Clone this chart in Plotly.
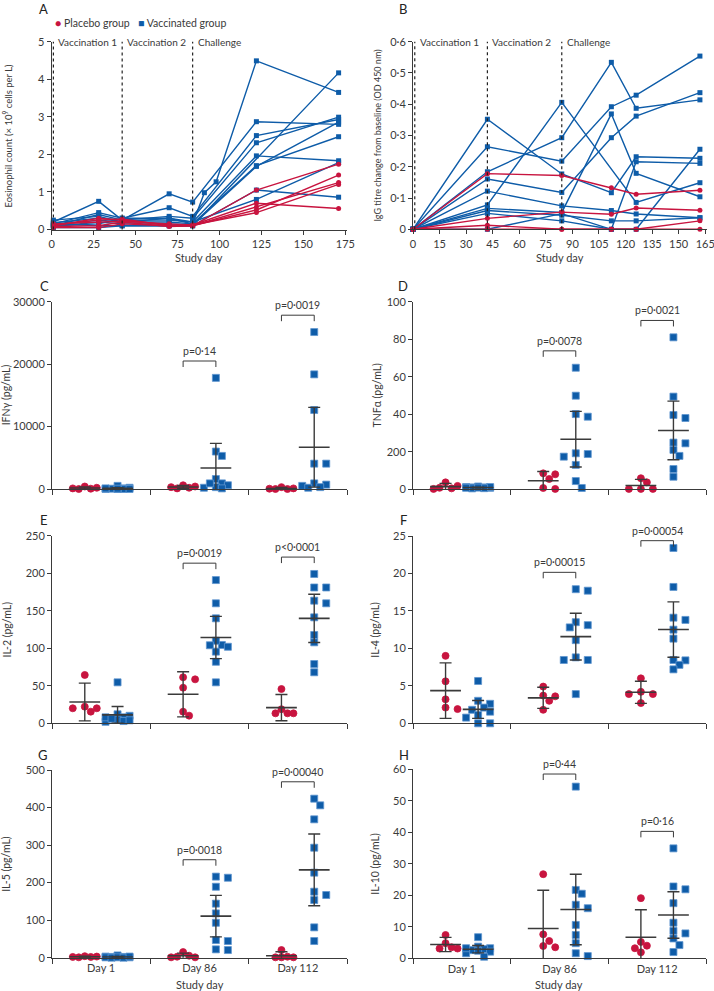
import numpy as np
import plotly.graph_objects as go

W, H = 714, 991
RED = '#c8143f'
BLUE = '#0e5ca8'
BLUE_EDGE = '#5f95cf'
INK = '#3a3a3a'
FONT = 'Lato, sans-serif'

# panel A: eosinophil count (x 10^9 cells per L) by study day
eos_days = [1, 28, 42, 70, 84, 91, 98, 122, 171]
eos_vaccine = [
    [0.20, 0.75, 0.25, 0.95, 0.73, None, None, 2.87, 2.80],
    [0.15, 0.45, 0.30, 0.58, 0.35, None, None, 2.50, 2.93],
    [0.10, 0.40, 0.25, 0.35, 0.30, None, None, 2.31, 2.99],
    [0.25, 0.35, 0.20, 0.30, 0.15, 0.98, 1.27, 4.49, 3.65],
    [0.18, 0.30, 0.25, 0.25, 0.20, None, None, 1.96, 1.83],
    [0.12, 0.25, 0.20, 0.20, 0.15, None, None, 1.70, 2.47],
    [0.08, 0.20, 0.15, 0.15, 0.12, None, None, 1.68, 2.86],
    [0.15, 0.10, 0.10, 0.10, 0.10, None, None, None, 4.17],
    [0.05, 0.05, 0.10, 0.10, 0.10, None, None, 1.05, 0.86],
    [0.10, 0.15, 0.30, 0.30, 0.20, None, None, 0.80, 1.78],
]
eos_placebo = [
    [0.10, 0.30, 0.25, 0.12, 0.10, None, None, 1.05, 1.74],
    [0.12, 0.25, 0.28, 0.10, 0.12, None, None, 0.70, 0.56],
    [0.08, 0.10, 0.20, 0.08, 0.10, None, None, 0.60, 1.25],
    [0.05, 0.05, 0.15, 0.10, 0.10, None, None, 0.52, 1.45],
    [0.15, 0.20, 0.22, 0.15, 0.12, None, None, 0.45, 1.20],
]

# panel B: IgG titre change from baseline (OD 450 nm)
igg_days = [0, 42, 84, 112, 126, 162]
igg_vaccine = [
    [0, 0.352, 0.177, 0.117, 0.232, 0.227],
    [0, 0.264, 0.218, 0.392, 0.429, 0.554],
    [0, 0.184, 0.293, 0.534, 0.387, 0.414],
    [0, 0.161, 0.118, 0.293, 0.362, 0.437],
    [0, 0.122, 0.075, 0.060, 0.049, 0.037],
    [0, 0.078, 0.406, None, 0.086, 0.149],
    [0, 0.067, 0.054, 0.369, 0.179, 0.104],
    [0, 0.060, 0.045, 0.027, 0.027, 0.037],
    [0, 0.051, 0.027, 0.000, 0.216, 0.211],
    [0, 0.000, 0.050, 0.000, 0.000, 0.256],
]
igg_placebo = [
    [0, 0.178, 0.172, 0.133, 0.112, 0.125],
    [0, 0.035, 0.055, 0.048, 0.068, 0.061],
    [0, 0.013, 0.000, 0.000, 0.000, 0.027],
    [0, 0.000, 0.000, 0.000, 0.000, 0.000],
]

event_days = [1, 42, 84]
event_labels = ['Vaccination 1', 'Vaccination 2', 'Challenge']

# panels C-H: cytokines (pg/mL) at day 1, day 86, day 112
day_labels = ['Day 1', 'Day 86', 'Day 112']

ifng_placebo = [[400, 200, 100, 50, 0],
                [600, 400, 300, 200, 100],
                [300, 100, 50, 0, 0]]
ifng_vaccine = [[500, 200, 100, 50, 0, 0, 0, 100, 50, 0],
                [17800, 6000, 5300, 1600, 900, 600, 300, 200, 100, 900],
                [25140, 18360, 12650, 4060, 4060, 900, 700, 500, 300, 200]]
ifng_p = ['p=0·14', 'p=0·0019']

tnf_placebo = [[3.7, 1.8, 0.2, 0.5, 0.8],
               [8.5, 5.5, 0.2, 8.0, 0.7],
               [5.9, 3.7, 0.2, 0.2, 0.2]]
tnf_vaccine = [[1.5, 1.2, 1.0, 0.8, 1.0, 0.5, 0.8, 1.2, 0.6, 0.9],
               [64.8, 49.9, 38.7, 40.1, 19.2, 17.4, 18.8, 13.0, 4.4, 0.7],
               [81.0, 49.4, 38.0, 39.6, 24.5, 24.9, 21.0, 17.8, 10.8, 6.7]]
tnf_p = ['p=0·0078', 'p=0·0021']

il2_placebo = [[64.4, 22.2, 15.5, 20.0, 20.0],
               [61.3, 58.6, 47.5, 15.5, 10.2],
               [45.7, 18.7, 13.3, 13.3, 13.3]]
il2_vaccine = [[54.6, 12, 10, 8, 5, 3, 2, 8, 6, 4],
               [190.9, 159.9, 139.9, 104.4, 110, 102, 104, 95.5, 82, 54.6],
               [199, 181, 181, 163.4, 159.9, 141.2, 117.7, 107.9, 79, 68]]
il2_p = ['p=0·0019', 'p<0·0001']

il4_placebo = [[9.0, 5.6, 3.2, 1.9, 2.1],
               [4.9, 3.7, 3.0, 3.6, 1.8],
               [6.0, 4.2, 3.9, 3.9, 2.7]]
il4_vaccine = [[5.65, 3.0, 2.6, 2.1, 1.8, 1.55, 1.1, 0, 0, 0.76],
               [17.7, 17.9, 13.5, 12.8, 13.1, 11.1, 8.8, 8.45, 8.45, 3.9],
               [23.4, 18.2, 14.1, 13.8, 12.5, 11.3, 8.45, 8.4, 7.8, 7.2]]
il4_p = ['p=0·00015', 'p=0·00054']

il5_placebo = [[3, 4, 2, 1, 2],
               [15, 5.3, 1, 1, 2.7],
               [20.4, 2.7, 1, 1, 1]]
il5_vaccine = [[6, 3, 2, 1, 1, 0, 2, 1, 0, 3],
               [213, 216, 189, 144, 118, 93, 44.4, 47, 20.4, 22.2],
               [423.6, 405.9, 368.6, 293, 226.5, 175.8, 167, 153.6, 80.8, 44.4]]
il5_p = ['p=0·0018', 'p=0·00040']

il10_placebo = [[7.4, 4.8, 3.1, 3.1, 3.5],
                [26.7, 7.6, 5.5, 3.5, 3.9],
                [19.1, 5.2, 4.0, 3.2, 1.9]]
il10_vaccine = [[6.7, 3.7, 3.2, 2.9, 2.6, 2.4, 2.1, 1.6, 0.5, 3.2],
                [54.5, 21.7, 20.5, 17.0, 15.9, 10.6, 7.4, 4.8, 1.6, 0.7],
                [34.9, 22.8, 21.9, 17.5, 11.3, 8.7, 7.9, 6.3, 4.2, 2.0]]
il10_p = ['p=0·44', 'p=0·16']

# two-sided 95% t critical values by degrees of freedom
t_crit = {1: 12.706, 2: 4.303, 3: 3.182, 4: 2.776, 5: 2.571, 6: 2.447,
          7: 2.365, 8: 2.306, 9: 2.262, 10: 2.228}

# panel geometry in pixels (left, right), (top, bottom)
geom = {
    'A': ((51.7, 347), (41.7, 229.5)),
    'B': ((413, 707), (41.7, 229.3)),
    'C': ((52, 347), (301.7, 489)),
    'D': ((413, 706), (301.7, 489.3)),
    'E': ((52, 347), (535.7, 723.3)),
    'F': ((413, 706), (536, 723.3)),
    'G': ((52, 347), (770, 957.7)),
    'H': ((413, 706), (769.3, 958.3)),
}
letter_pos = {'A': (37, -1), 'B': (397, -1), 'C': (38, 276), 'D': (396, 276),
              'E': (38, 510), 'F': (398, 510), 'G': (36, 745), 'H': (397, 745)}

fig = go.Figure()
annotations = []
shapes = []
layout = {}

axis_style = dict(showline=True, linecolor=INK, linewidth=1, ticks='outside',
                  ticklen=4, tickwidth=1, tickcolor=INK, showgrid=False,
                  zeroline=False, automargin=False, ticklabeloverflow='allow',
                  tickfont=dict(size=11, color=INK, family=FONT))


def ids(n):
    s = '' if n == 1 else str(n)
    return s


def set_axes(n, name, xcfg, ycfg):
    (x0, x1), (yt, yb) = geom[name]
    s = ids(n)
    xa = dict(axis_style, domain=[x0 / W, x1 / W], anchor='y' + s)
    xa.update(xcfg)
    ya = dict(axis_style, domain=[1 - yb / H, 1 - yt / H], anchor='x' + s)
    ya.update(ycfg)
    layout['xaxis' + s] = xa
    layout['yaxis' + s] = ya


def ytitle(xpx, name, text, size=10.5):
    (x0, x1), (yt, yb) = geom[name]
    annotations.append(dict(x=xpx / W, y=1 - (yt + yb) / 2 / H, xref='paper', yref='paper',
                            text=text, textangle=-90, showarrow=False,
                            xanchor='center', yanchor='middle',
                            font=dict(size=size, color=INK, family=FONT)))


def xtitle(xpx, ypx, text):
    annotations.append(dict(x=xpx / W, y=1 - ypx / H, xref='paper', yref='paper',
                            text=text, showarrow=False, xanchor='center', yanchor='middle',
                            font=dict(size=11, color=INK, family=FONT)))


# panel letters
for k, (lx, ly) in letter_pos.items():
    annotations.append(dict(x=lx / W, y=1 - ly / H, xref='paper', yref='paper', text=k,
                            xanchor='left', yanchor='top', showarrow=False,
                            font=dict(size=13, color='#222', family=FONT)))

# legend
annotations.append(dict(x=53 / W, y=1 - 23 / H, xref='paper', yref='paper', xanchor='left',
                        yanchor='middle',
                        text='<span style="color:%s">●</span> Placebo group' % RED,
                        showarrow=False, font=dict(size=10.5, color=INK, family=FONT)))
annotations.append(dict(x=136 / W, y=1 - 23 / H, xref='paper', yref='paper', xanchor='left',
                        yanchor='middle',
                        text='<span style="color:%s">■</span> Vaccinated group' % BLUE,
                        showarrow=False, font=dict(size=10.5, color=INK, family=FONT)))


def line_panel(n, name, days, vaccine, placebo, ymax):
    s = ids(n)
    for row in vaccine:
        fig.add_trace(go.Scatter(x=days, y=row, mode='lines+markers', connectgaps=True,
                                 line=dict(color=BLUE, width=1.4),
                                 marker=dict(symbol='square', size=5, color=BLUE),
                                 xaxis='x' + s, yaxis='y' + s, cliponaxis=False,
                                 showlegend=False, hoverinfo='skip'))
    for row in placebo:
        fig.add_trace(go.Scatter(x=days, y=row, mode='lines+markers', connectgaps=True,
                                 line=dict(color=RED, width=1.4),
                                 marker=dict(symbol='circle', size=5, color=RED),
                                 xaxis='x' + s, yaxis='y' + s, cliponaxis=False,
                                 showlegend=False, hoverinfo='skip'))
    for d, lab in zip(event_days, event_labels):
        shapes.append(dict(type='line', xref='x' + s, yref='y' + s + ' domain', x0=d, x1=d,
                           y0=0, y1=1, line=dict(color='#222', width=1.2, dash='dot')))
        annotations.append(dict(x=d, y=ymax, xref='x' + s, yref='y' + s, text=lab,
                                xanchor='left', yanchor='middle', xshift=3, showarrow=False,
                                font=dict(size=10, color=INK, family=FONT)))


# panel A
set_axes(1, 'A', dict(range=[0, 176], tickvals=list(range(0, 176, 25))),
         dict(range=[0, 5], tickvals=[0, 1, 2, 3, 4, 5]))
line_panel(1, 'A', eos_days, eos_vaccine, eos_placebo, 5)
ytitle(8, 'A', 'Eosinophil count (× 10<sup>9</sup> cells per L)', 9.5)
xtitle(199, 257, 'Study day')

# panel B
b_ticks = [0, 0.1, 0.2, 0.3, 0.4, 0.5, 0.6]
set_axes(2, 'B', dict(range=[0, 166], tickvals=list(range(0, 166, 15))),
         dict(range=[0, 0.6], tickvals=b_ticks,
              ticktext=['0'] + ['0·%d' % i for i in range(1, 7)]))
line_panel(2, 'B', igg_days, igg_vaccine, igg_placebo, 0.6)
ytitle(377, 'B', 'IgG titre change from baseline (OD 450 nm)', 9)
xtitle(560, 257, 'Study day')


def swarm(values, center, ppu_x, ppu_y, diam=7.0, step=6.0):
    order = np.argsort(values)[::-1]
    placed = []
    xs = [0.0] * len(values)
    for i in order:
        py = values[i] * ppu_y
        best, bestd = 0.0, -1.0
        for k in [0, 1, -1, 2, -2]:
            px = k * step
            d = min([np.hypot(px - qx, py - qy) for qx, qy in placed], default=1e9)
            if d >= diam:
                best = px
                break
            if d > bestd:
                bestd, best = d, px
        placed.append((best, py))
        xs[i] = center + best / ppu_x
    return xs


def dot_panel(n, name, placebo, vaccine, pvals, ymax, ytickvals, yticktext, title, title_x, show_days):
    s = ids(n)
    (x0, x1), (yt, yb) = geom[name]
    ppu_x = (x1 - x0) / 3
    ppu_y = (yb - yt) / ymax
    xcfg = dict(range=[0, 3], tickvals=[0.5, 1.5, 2.5], ticktext=day_labels,
                showticklabels=show_days, ticks='',
                minor=dict(ticks='outside', tick0=0, dtick=1, ticklen=5,
                           tickcolor=INK, tickwidth=1, showgrid=False))
    ycfg = dict(range=[0, ymax], tickvals=ytickvals)
    if yticktext:
        ycfg['ticktext'] = yticktext
    set_axes(n, name, xcfg, ycfg)
    groups = [(placebo, 1 / 3, RED, 'circle', RED), (vaccine, 2 / 3, BLUE, 'square', BLUE_EDGE)]
    for data, off, col, sym, edge in groups:
        xs, ys = [], []
        for i, vals in enumerate(data):
            xs += swarm(vals, i + off, ppu_x, ppu_y)
            ys += list(vals)
        fig.add_trace(go.Scatter(x=xs, y=ys, mode='markers', xaxis='x' + s, yaxis='y' + s,
                                 marker=dict(symbol=sym, size=7, color=col,
                                             line=dict(color=edge, width=0.8)),
                                 cliponaxis=False, showlegend=False, hoverinfo='skip'))
    for data, off, col, sym, edge in groups:
        means, cis = [], []
        for vals in data:
            v = np.array(vals, dtype=float)
            means.append(v.mean())
            cis.append(t_crit[len(v) - 1] * v.std(ddof=1) / np.sqrt(len(v)))
        fig.add_trace(go.Scatter(x=[i + off for i in range(3)], y=means, mode='markers',
                                 xaxis='x' + s, yaxis='y' + s,
                                 marker=dict(symbol='line-ew', size=22,
                                             line=dict(color=INK, width=1.6)),
                                 error_y=dict(type='data', array=cis, symmetric=True,
                                              color=INK, thickness=1.4, width=6),
                                 cliponaxis=True, showlegend=False, hoverinfo='skip'))
    for j, p in enumerate(pvals):
        i = j + 1
        top = max(max(placebo[i]), max(vaccine[i]))
        b = min(top + 0.09 * ymax, 0.975 * ymax)
        d = 6 / ppu_y
        fig.add_trace(go.Scatter(x=[i + 1 / 3, i + 1 / 3, i + 2 / 3, i + 2 / 3],
                                 y=[b - d, b, b, b - d], mode='lines',
                                 line=dict(color=INK, width=1), xaxis='x' + s, yaxis='y' + s,
                                 showlegend=False, hoverinfo='skip'))
        annotations.append(dict(x=i + 0.5, y=b, xref='x' + s, yref='y' + s, text=p,
                                xanchor='center', yanchor='bottom', yshift=2, showarrow=False,
                                font=dict(size=10.5, color=INK, family=FONT)))
    ytitle(title_x, name, title)


dot_panel(3, 'C', ifng_placebo, ifng_vaccine, ifng_p, 30000, [0, 10000, 20000, 30000],
          ['0', '10000', '20000', '30000'],
          'IFNγ (pg/mL)', 6, False)
dot_panel(4, 'D', tnf_placebo, tnf_vaccine, tnf_p, 100, [0, 20, 40, 60, 80, 100],
          ['0', '200', '40', '60', '80', '100'], 'TNFα (pg/mL)', 376, False)
dot_panel(5, 'E', il2_placebo, il2_vaccine, il2_p, 250, [0, 50, 100, 150, 200, 250],
          None, 'IL-2 (pg/mL)', 6, False)
dot_panel(6, 'F', il4_placebo, il4_vaccine, il4_p, 25, [0, 5, 10, 15, 20, 25],
          None, 'IL-4 (pg/mL)', 375, False)
dot_panel(7, 'G', il5_placebo, il5_vaccine, il5_p, 500, [0, 100, 200, 300, 400, 500],
          None, 'IL-5 (pg/mL)', 6, True)
dot_panel(8, 'H', il10_placebo, il10_vaccine, il10_p, 60, [0, 10, 20, 30, 40, 50, 60],
          None, 'IL-10 (pg/mL)', 375, True)
xtitle(200, 984, 'Study day')
xtitle(559, 984, 'Study day')

fig.update_layout(**layout)
fig.update_layout(width=W, height=H,
                  margin=dict(l=0, r=0, t=0, b=0, pad=0, autoexpand=False),
                  paper_bgcolor='white', plot_bgcolor='white',
                  annotations=annotations, shapes=shapes, showlegend=False,
                  font=dict(family=FONT, color=INK))
fig.write_html('out.html', config={'displayModeBar': False},
               post_script="document.body.style.margin='0px';")
